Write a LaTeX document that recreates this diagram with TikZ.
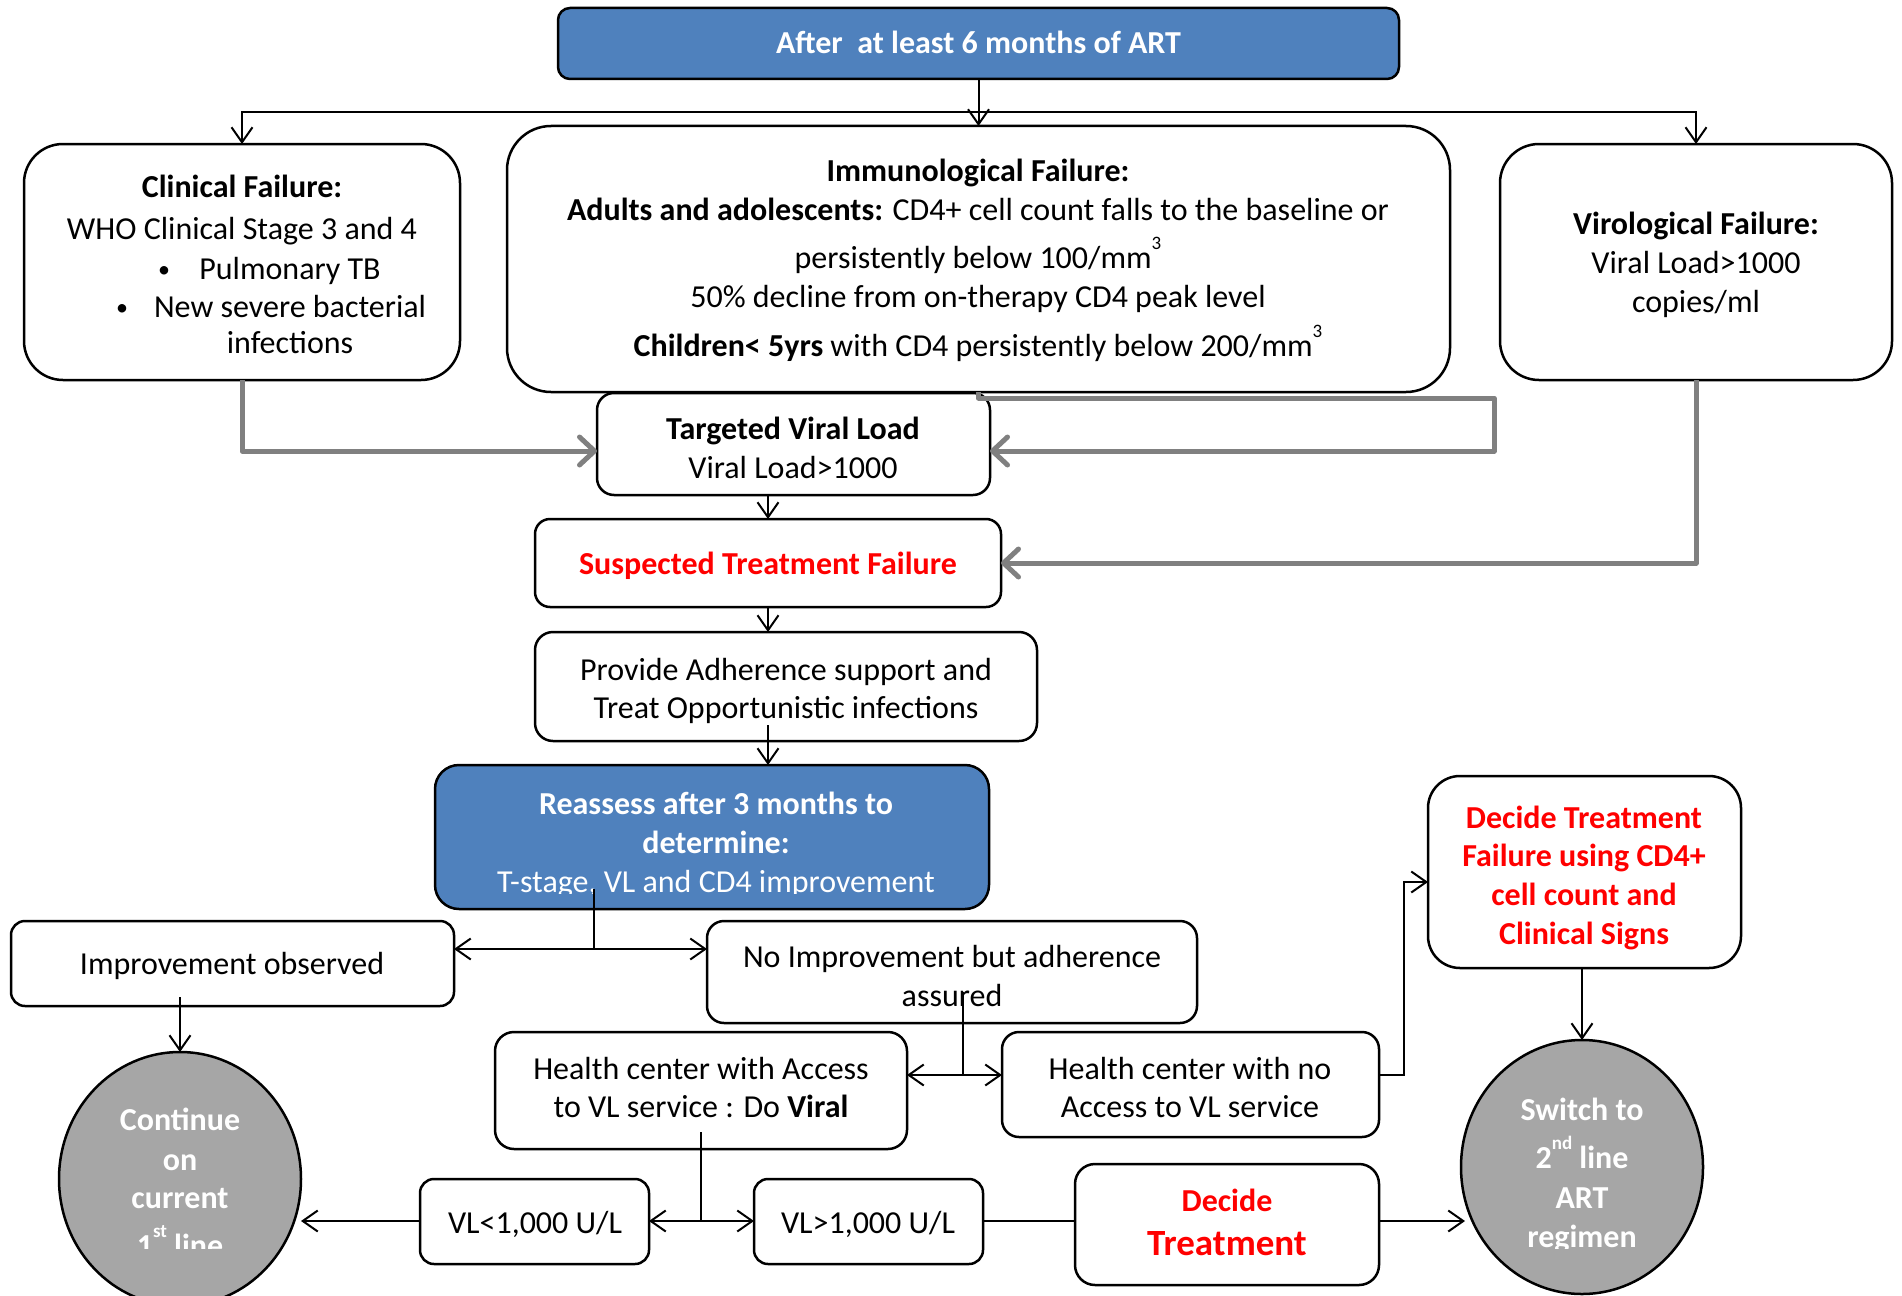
\documentclass[tikz,border=0pt]{standalone}
\usepackage{fontspec}
\setmainfont{Carlito}
\usetikzlibrary{arrows.meta,shapes.geometric}

\definecolor{boxblue}{HTML}{4F81BD}
\definecolor{ovalgray}{HTML}{A6A6A6}
\definecolor{linkgray}{HTML}{808080}
\definecolor{alertred}{HTML}{FF0000}

% raised small superscript used for mm^3, 2nd, 1st
\newcommand\upnum[1]{\raisebox{19pt}{\fontsize{19}{19}\selectfont #1}}

\tikzset{
  rbox/.style={draw=black, line width=2.5pt, fill=white, inner sep=0pt, outer sep=0pt},
  bluebox/.style={rbox, fill=boxblue},
  oval/.style={ellipse, draw=black, line width=2.5pt, fill=ovalgray, inner sep=0pt, outer sep=0pt},
  txt/.style={anchor=base, inner sep=0pt, font=\fontsize{32}{38}\selectfont},
  btxt/.style={anchor=base, inner sep=0pt, font=\fontsize{32}{38}\selectfont\bfseries},
  bullet/.style={anchor=base, inner sep=0pt, font=\fontsize{24}{28}\selectfont},
  link/.style={draw=black, line width=2pt},
  arr/.style={link, -{Straight Barb[length=15pt,width=21pt]}},
  darr/.style={link, {Straight Barb[length=15pt,width=21pt]}-{Straight Barb[length=15pt,width=21pt]}},
  garr/.style={draw=linkgray, line width=5pt, line join=round, -{Straight Barb[length=15pt,width=28pt,round]}},
}

\begin{document}
\begin{tikzpicture}[x=1pt,y=-1pt]
\useasboundingbox (0,0) rectangle (1902,1295);
\clip (0,0) rectangle (1902,1295);

% ---------- boxes ----------
\node[bluebox, minimum width=841pt, minimum height=71pt, rounded corners=12pt] (start) at (978.5,43.5) {};
\node[rbox, minimum width=436pt, minimum height=236pt, rounded corners=39pt] (clin) at (242,262) {};
\node[rbox, minimum width=943pt, minimum height=266pt, rounded corners=44pt] (immu) at (978.5,259) {};
\node[rbox, minimum width=392pt, minimum height=236pt, rounded corners=39pt] (viro) at (1696,262) {};
\node[rbox, minimum width=393pt, minimum height=102pt, rounded corners=17pt] (targ) at (793.5,444) {};
\node[rbox, minimum width=466pt, minimum height=88pt, rounded corners=15pt] (susp) at (768,563) {};
\node[rbox, minimum width=502pt, minimum height=109pt, rounded corners=18pt] (prov) at (786,686.5) {};
\node[bluebox, minimum width=554pt, minimum height=144pt, rounded corners=24pt] (reas) at (712,837) {};
\node[rbox, minimum width=443pt, minimum height=85pt, rounded corners=14pt] (impr) at (232.5,963.5) {};
\node[rbox, minimum width=490pt, minimum height=102pt, rounded corners=17pt] (noim) at (952,972) {};
\node[rbox, minimum width=412pt, minimum height=117pt, rounded corners=19pt] (hca) at (701,1090.5) {};
\node[rbox, minimum width=377pt, minimum height=105pt, rounded corners=17pt] (hcn) at (1190.5,1084.5) {};
\node[rbox, minimum width=313pt, minimum height=192pt, rounded corners=32pt] (dtf) at (1584.5,872) {};
\node[rbox, minimum width=229pt, minimum height=85pt, rounded corners=14pt] (vll) at (534.5,1221.5) {};
\node[rbox, minimum width=229pt, minimum height=85pt, rounded corners=14pt] (vlg) at (868.5,1221.5) {};
\node[rbox, minimum width=304pt, minimum height=121pt, rounded corners=20pt] (dt) at (1227,1224.5) {};
\node[oval, minimum width=242pt, minimum height=254pt] (cont) at (180,1179) {};
\node[oval, minimum width=242pt, minimum height=254pt] (sw) at (1582,1167) {};

% ---------- texts ----------
\node[btxt, text=white] (startT) at (978.5,54) {After\ \ at least 6 months of ART};

\node[btxt] (clin1) at (242,197) {Clinical Failure:};
\node[txt] (clin2) at (242,239) {WHO Clinical Stage 3 and 4};
\node[txt] (clin3) at (290,279) {Pulmonary TB};
\node[txt] (clin4) at (290,317) {New severe bacterial};
\node[txt] (clin5) at (290,353) {infections};
\node[bullet] (bul1) at (164,277) {•};
\node[bullet] (bul2) at (122,315) {•};

\node[btxt] (immu1) at (978,181) {Immunological Failure:};
\node[txt] (immu2) at (978,220) {\textbf{Adults and adolescents:} CD4+ cell count falls to the baseline or};
\node[txt] (immu3) at (978,268) {persistently below 100/mm\upnum{3}};
\node[txt] (immu4) at (978,307) {50\% decline from on-therapy CD4 peak level};
\node[txt] (immu5) at (978,356) {\textbf{Children< 5yrs} with CD4 persistently below 200/mm\upnum{3}};

\node[btxt] (viro1) at (1696,234) {Virological Failure:};
\node[txt] (viro2) at (1696,273) {Viral Load>1000};
\node[txt] (viro3) at (1696,312) {copies/ml};

\node[btxt] (targ1) at (793,439) {Targeted Viral Load};
\node[txt] (targ2) at (793,478) {Viral Load>1000};

\node[btxt, text=alertred] (susp1) at (768,574) {Suspected Treatment Failure};

\node[txt] (prov1) at (786,680) {Provide Adherence support and};
\node[txt] (prov2) at (786,718) {Treat Opportunistic infections};

\node[btxt, text=white] (reas1) at (716,814) {Reassess after 3 months to};
\node[btxt, text=white] (reas2) at (716,853) {determine:};
\begin{scope}
  \clip (435,765) rectangle (989,893);
  \node[txt, text=white] (reas3) at (716,892) {T-stage, VL and CD4 improvement};
\end{scope}

\node[txt] (impr1) at (232,974) {Improvement observed};

\node[txt] (noim1) at (952,967) {No Improvement but adherence};
\node[txt] (noim2) at (952,1006) {assured};

\node[txt] (hca1) at (701,1079) {Health center with Access};
\node[txt] (hca2) at (701,1117) {to VL service : Do \textbf{Viral}};

\node[txt] (hcn1) at (1190,1079) {Health center with no};
\node[txt] (hcn2) at (1190,1117) {Access to VL service};

\node[btxt, text=alertred] (dtf1) at (1584,828) {Decide Treatment};
\node[btxt, text=alertred] (dtf2) at (1584,866) {Failure using CD4+};
\node[btxt, text=alertred] (dtf3) at (1584,905) {cell count and};
\node[btxt, text=alertred] (dtf4) at (1584,944) {Clinical Signs};

\node[txt] (vll1) at (535,1233) {VL<1,000 U/L};
\node[txt] (vlg1) at (868,1233) {VL>1,000 U/L};

\node[btxt, text=alertred] (dt1) at (1227,1211) {Decide};
\node[anchor=base, inner sep=0pt, font=\fontsize{37}{44}\selectfont\bfseries, text=alertred] (dt2) at (1227,1255) {Treatment};

\begin{scope}
  \clip (59,1040) rectangle (301,1248);
  \node[btxt, text=white] (cont1) at (180,1130) {Continue};
  \node[btxt, text=white] (cont2) at (180,1170) {on};
  \node[btxt, text=white] (cont3) at (180,1208) {current};
  \node[btxt, text=white] (cont4) at (180,1256) {1\upnum{st} line};
\end{scope}

\begin{scope}
  \clip (1461,1040) rectangle (1703,1248);
  \node[btxt, text=white] (sw1) at (1582,1120) {Switch to};
  \node[btxt, text=white] (sw2) at (1582,1168) {2\upnum{nd} line};
  \node[btxt, text=white] (sw3) at (1582,1208) {ART};
  \node[btxt, text=white] (sw4) at (1582,1247) {regimen};
\end{scope}

% ---------- connector points ----------
\coordinate (hbar) at (978,112);
\coordinate (gbend) at (1494,451);
\coordinate (pstart) at (768,725);
\coordinate (rstart) at (594,889);
\coordinate (rjoin) at (594,949);
\coordinate (istart) at (180,997);
\coordinate (nstart) at (963,992);
\coordinate (njoin) at (963,1075);
\coordinate (nbend) at (1404,882);
\coordinate (hstart) at (701,1132);
\coordinate (hjoin) at (701,1221);

% ---------- connectors ----------
\draw[arr] (start.south) -- (immu.north);
\draw[arr] (hbar) -| (clin.north);
\draw[arr] (hbar) -| (viro.north);

\draw[garr] (clin.south) |- (gbend -| targ.west);
\draw[garr] (immu.south) -- ++(0,6) -| (gbend) -- (gbend -| targ.east);
\draw[garr] (viro.south) |- (susp.east);

\draw[arr] (susp.north |- targ.south) -- (susp.north);
\draw[arr] (susp.south) -- (susp.south |- prov.north);
\draw[arr] (pstart) -- (pstart |- reas.north);

\draw[link] (rstart) -- (rjoin);
\draw[darr] (rjoin -| impr.east) -- (rjoin -| noim.west);
\draw[arr] (istart) -- (cont.north);

\draw[link] (nstart) -- (njoin);
\draw[darr] (njoin -| hca.east) -- (njoin -| hcn.west);
\draw[arr] (njoin -| hcn.east) -| (nbend) -- (nbend -| dtf.west);
\draw[arr] (sw.north |- dtf.south) -- (sw.north);

\draw[link] (hstart) -- (hjoin);
\draw[darr] (hjoin -| vll.east) -- (hjoin -| vlg.west);
\draw[arr] (hjoin -| vll.west) -- (hjoin -| cont.east);
\draw[link] (hjoin -| vlg.east) -- (hjoin -| dt.west);
\draw[arr] (hjoin -| dt.east) -- ([xshift=4pt]hjoin -| sw.west);
\end{tikzpicture}
\end{document}
